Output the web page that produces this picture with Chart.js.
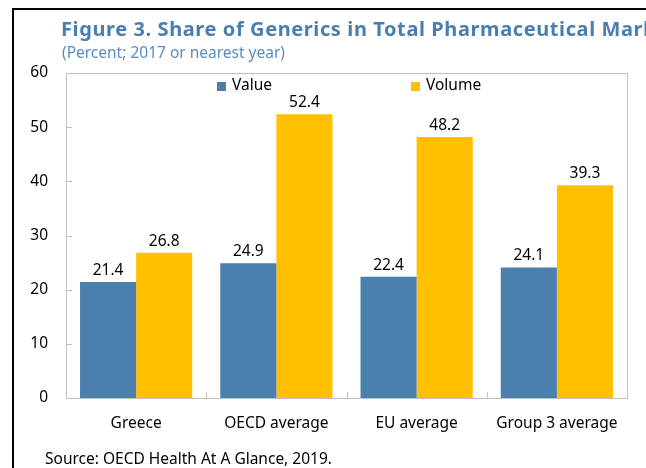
<!DOCTYPE html>
<html><head><meta charset="utf-8">
<script src="https://cdn.jsdelivr.net/npm/chart.js@4.4.1/dist/chart.umd.min.js"></script>
<style>
html,body{margin:0;padding:0;background:#fff;overflow:hidden;width:646px;height:468px}
#wrap{position:relative;width:646px;height:468px;overflow:hidden;background:#fff}
#c{position:absolute;left:0;top:0}
.fl{position:absolute;left:12px;top:8px;width:2px;height:470px;background:#000}
.ft{position:absolute;left:12px;top:8px;width:640px;height:2px;background:#000}
#topline{position:absolute;left:150px;top:-21px;font:19px "Liberation Serif";white-space:nowrap;color:#000}
#title{position:absolute;left:61px;top:19px;font:bold 20px "Noto Sans";letter-spacing:0.6px;color:#4a7eb0;white-space:nowrap;line-height:1}
#sub{position:absolute;left:62px;top:45px;font:15.5px "Noto Sans";color:#5a8cc0;white-space:nowrap;line-height:1}
#src{position:absolute;left:45px;top:451px;font:15.5px "Noto Sans";color:#000;white-space:nowrap;line-height:1}
</style></head>
<body><div id="wrap">
<div id="topline">incentives to use generics (e.g., by pharmacists substituting), or</div>
<canvas id="c" width="646" height="468"></canvas>
<div class="fl"></div><div class="ft"></div>
<div id="title">Figure 3. Share of Generics in Total Pharmaceutical Market</div>
<div id="sub">(Percent; 2017 or nearest year)</div>
<div id="src">Source: OECD Health At A Glance, 2019.</div>
</div>
<script>
const categories = ['Greece', 'OECD average', 'EU average', 'Group 3 average'];
const seriesNames = ['Value', 'Volume'];
const valueShare = [21.4, 24.9, 22.4, 24.1];
const volumeShare = [26.8, 52.4, 48.2, 39.3];
const yTicks = [0, 10, 20, 30, 40, 50, 60];
const seriesColors = ['#4a7fae', '#ffc000'];

const FONT = '"Noto Sans", sans-serif';

const decor = {
  id: 'decor',
  afterDatasetsDraw(chart) {
    const ctx = chart.ctx, a = chart.chartArea;
    const xs = chart.scales.x, ys = chart.scales.y;
    ctx.save();
    // plot frame
    ctx.strokeStyle = '#c0c0c0';
    ctx.lineWidth = 1;
    ctx.strokeRect(Math.round(a.left) + 0.5, Math.round(a.top) + 0.5, Math.round(a.right - a.left), Math.round(a.bottom - a.top));
    // y tick marks (inside)
    ctx.beginPath();
    yTicks.forEach(v => {
      if (v === yTicks[0] || v === yTicks[yTicks.length - 1]) return;
      const y = Math.round(ys.getPixelForValue(v)) + 0.5;
      ctx.moveTo(a.left, y); ctx.lineTo(a.left + 6, y);
    });
    // x tick marks between categories (inside)
    for (let i = 1; i < categories.length; i++) {
      const x = Math.round((xs.getPixelForTick(i - 1) + xs.getPixelForTick(i)) / 2) + 0.5;
      ctx.moveTo(x, a.bottom); ctx.lineTo(x, a.bottom - 6);
    }
    ctx.stroke();
    // data labels
    ctx.fillStyle = '#000';
    ctx.font = '15.5px ' + FONT;
    ctx.textAlign = 'center';
    ctx.textBaseline = 'alphabetic';
    chart.data.datasets.forEach((ds, di) => {
      const meta = chart.getDatasetMeta(di);
      meta.data.forEach((bar, i) => {
        ctx.fillText(ds.data[i].toFixed(1), bar.x, bar.y - 7);
      });
    });
    // legend
    const legX = [217, 411];
    const legY = 86;
    ctx.textAlign = 'left';
    ctx.textBaseline = 'middle';
    chart.data.datasets.forEach((ds, di) => {
      ctx.fillStyle = ds.backgroundColor;
      ctx.fillRect(legX[di], legY - 4, 9, 9);
      ctx.fillStyle = '#000';
      ctx.fillText(ds.label, legX[di] + 15, legY);
    });
    ctx.restore();
  }
};

new Chart(document.getElementById('c'), {
  type: 'bar',
  data: {
    labels: categories,
    datasets: [
      { label: seriesNames[0], data: valueShare, backgroundColor: seriesColors[0] },
      { label: seriesNames[1], data: volumeShare, backgroundColor: seriesColors[1] }
    ]
  },
  options: {
    responsive: false,
    animation: false,
    events: [],
    layout: { padding: { left: 13, top: 73, right: 19, bottom: 0 } },
    datasets: { bar: { categoryPercentage: 0.8, barPercentage: 1.0, borderWidth: 0 } },
    plugins: { legend: { display: false }, tooltip: { enabled: false }, title: { display: false } },
    scales: {
      x: {
        grid: { display: false, drawTicks: false },
        border: { display: false },
        ticks: { color: '#000', font: { size: 15.5, family: FONT }, padding: 16, maxRotation: 0 },
        afterFit(s) { s.height = 70; }
      },
      y: {
        min: 0, max: 60,
        grid: { display: false, drawTicks: false },
        border: { display: false },
        afterBuildTicks(s) { s.ticks = yTicks.map(v => ({ value: v })); },
        ticks: { color: '#000', font: { size: 15.5, family: FONT }, padding: 18 },
        afterFit(s) { s.width = 53; }
      }
    }
  },
  plugins: [decor]
});
</script>
</body></html>
